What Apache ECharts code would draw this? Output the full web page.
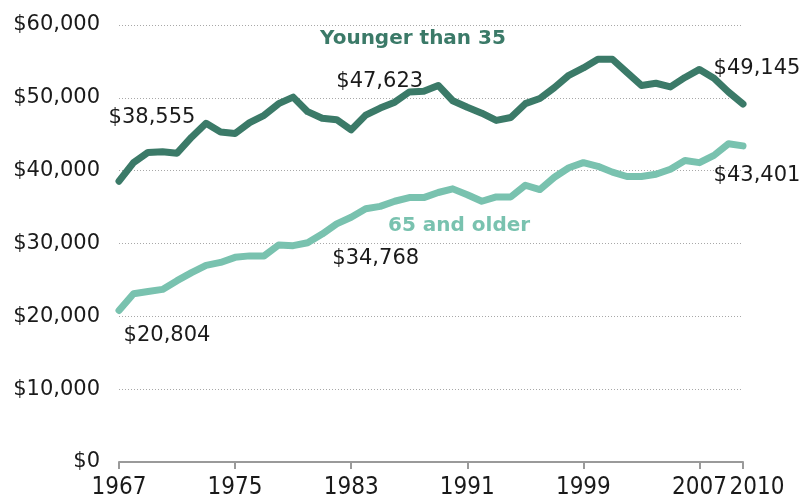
<!DOCTYPE html>
<html>
<head>
<meta charset="utf-8">
<script src="https://cdn.jsdelivr.net/npm/echarts@6/dist/echarts.min.js"></script>
<style>
	html, body { margin: 0; padding: 0; background: #ffffff; }
	#chart { width: 803px; height: 500px; }
</style>
</head>
<body>
<div id="chart"></div>
<script>
	// median household income, by age of head of household (2010 dollars)
	var years = [1967, 1968, 1969, 1970, 1971, 1972, 1973, 1974, 1975, 1976, 1977, 1978, 1979, 1980, 1981,
		1982, 1983, 1984, 1985, 1986, 1987, 1988, 1989, 1990, 1991, 1992, 1993, 1994, 1995, 1996,
		1997, 1998, 1999, 2000, 2001, 2002, 2003, 2004, 2005, 2006, 2007, 2008, 2009, 2010];
	var younger = [38555, 41100, 42500, 42600, 42400, 44600, 46500, 45300, 45100, 46600, 47600, 49200, 50100, 48100, 47200,
		47000, 45600, 47623, 48600, 49400, 50800, 50900, 51700, 49600, 48700, 47900, 46900, 47300, 49200, 49900,
		51400, 53100, 54100, 55300, 55300, 53500, 51700, 52000, 51500, 52800, 53900, 52700, 50800, 49145];
	var older = [20804, 23100, 23400, 23700, 24900, 26000, 27000, 27400, 28100, 28300, 28300, 29800, 29700, 30100, 31300,
		32700, 33600, 34768, 35100, 35800, 36300, 36300, 37000, 37500, 36700, 35800, 36400, 36400, 38000, 37400,
		39100, 40400, 41100, 40600, 39800, 39200, 39200, 39500, 40200, 41400, 41100, 42100, 43700, 43401];
	var yearTicks = [1967, 1975, 1983, 1991, 1999, 2007];
	var lastYearTick = [2010];

	var darkGreen = '#3b7a68';
	var lightGreen = '#79c2af';

	// which points get a value label, and where the label sits relative to the point
	var youngerNotes = { 1967: [33, -64], 1984: [14, -34], 2010: [14, -36] };
	var olderNotes = { 1967: [48, 25], 1984: [10, 50], 2010: [14, 30] };

	function money(v) {
		return '$' + v.toLocaleString('en-US');
	}

	function buildData(values, notes) {
		return values.map(function(v, i) {
			var item = { value: [years[i], v] };
			var off = notes[years[i]];
			if (off) {
				item.label = {
					show: true,
					position: 'top',
					distance: 0,
					align: 'center',
					verticalAlign: 'middle',
					offset: off,
					formatter: money(v),
					fontFamily: 'DejaVu Sans',
					fontSize: 21,
					color: '#1a1a1a'
				};
			}
			return item;
		});
	}

	// x axis; the 2010 label sits on its own axis so it is not dropped next to 2007
	function yearAxis(ticks, showLine, padLeft) {
		return {
			type: 'value',
			position: 'bottom',
			min: 1967,
			max: 2010,
			splitLine: { show: false },
			axisLine: { show: showLine, lineStyle: { color: '#9a9a9a', width: 2 } },
			axisTick: {
				show: true,
				length: 7,
				customValues: ticks,
				lineStyle: { color: '#9a9a9a', width: 2 }
			},
			axisLabel: {
				customValues: ticks,
				hideOverlap: false,
				padding: [0, 0, 0, padLeft],
				margin: 14,
				fontFamily: 'DejaVu Sans Condensed, sans-serif',
				fontSize: 24,
				color: '#1a1a1a',
				formatter: function(v) { return String(v); }
			}
		};
	}

	var chart = echarts.init(document.getElementById('chart'), null, { renderer: 'canvas' });

	var option = {
		animation: false,
		backgroundColor: '#ffffff',
		grid: { left: 119, right: 60, top: 25, bottom: 38, containLabel: false },
		xAxis: [yearAxis(yearTicks, true, 0), yearAxis(lastYearTick, false, 28)],
		yAxis: {
			type: 'value',
			min: 0,
			max: 60000,
			interval: 10000,
			axisLine: { show: false },
			axisTick: { show: false },
			splitLine: { show: true, lineStyle: { color: '#a8a8a8', width: 1, type: [1, 2] } },
			axisLabel: {
				margin: 19,
				fontFamily: 'DejaVu Sans',
				fontSize: 21,
				color: '#1a1a1a',
				formatter: function(v) { return money(v); }
			}
		},
		series: [{
			name: 'Younger than 35',
			type: 'line',
			xAxisIndex: 0,
			symbol: 'circle',
			symbolSize: 0,
			showSymbol: true,
			lineStyle: { color: darkGreen, width: 7, join: 'round', cap: 'round' },
			itemStyle: { color: darkGreen },
			z: 3,
			data: buildData(younger, youngerNotes)
		}, {
			name: '65 and older',
			type: 'line',
			xAxisIndex: 0,
			symbol: 'circle',
			symbolSize: 0,
			showSymbol: true,
			lineStyle: { color: lightGreen, width: 7, join: 'round', cap: 'round' },
			itemStyle: { color: lightGreen },
			z: 2,
			data: buildData(older, olderNotes)
		}],
		graphic: [{
			type: 'text',
			left: 320,
			top: 29,
			style: { text: 'Younger than 35', font: 'bold 20px "DejaVu Sans"', fill: darkGreen }
		}, {
			type: 'text',
			left: 388,
			top: 216,
			style: { text: '65 and older', font: 'bold 20px "DejaVu Sans"', fill: lightGreen }
		}]
	};

	chart.setOption(option);
</script>
</body>
</html>
